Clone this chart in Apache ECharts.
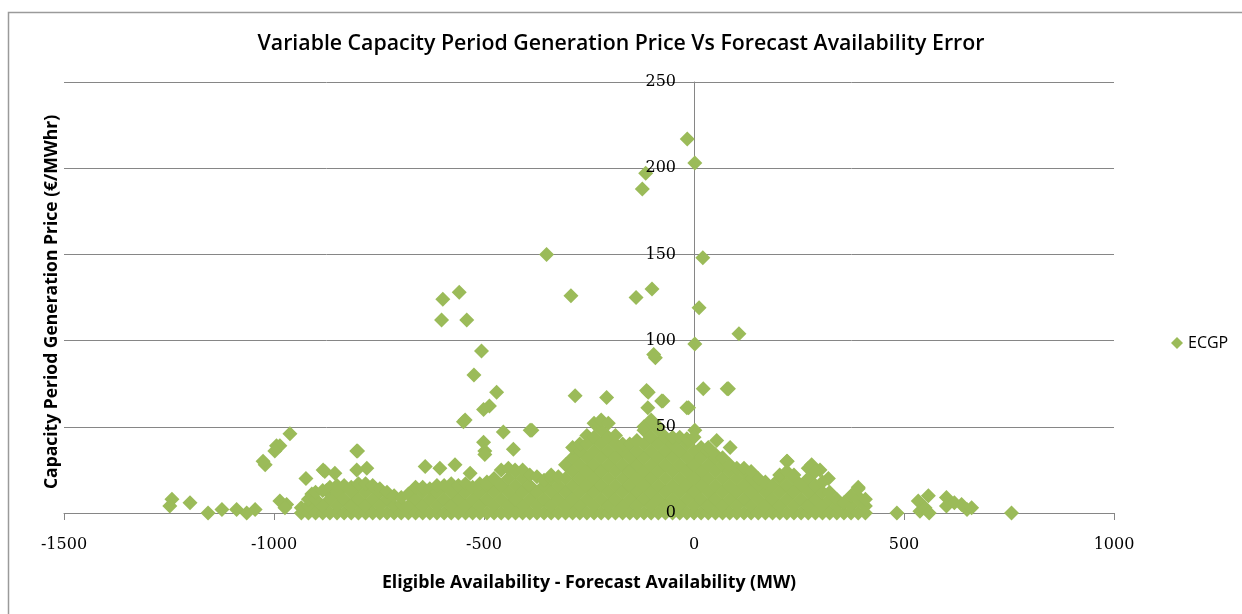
<!DOCTYPE html>
<html>
<head>
<meta charset="utf-8">
<script src="https://cdn.jsdelivr.net/npm/echarts@6/dist/echarts.min.js"></script>
<style>
	html, body {margin: 0; padding: 0; background: #fff;}
	#main {width: 1242px; height: 614px;}
</style>
</head>
<body>
<div id="main"></div>
<script>
// scattered points, [MW error, price]
var outliers = [
	[-16,217],[2,203],[-115,197],[-123,188],[-351,150],[21,148],[-598,124],[-559,128],
	[-601,112],[-541,112],[-293,126],[-138,125],[-100,130],[12,119],[107,104],[2,98],
	[-92,90],[-96,92],[-506,94],[-524,80],
	[-470,70],[-487,62],[-501,60],[-545,54],[-549,53],[-283,68],[-208,67],[-109,70],
	[-113,71],[-77,65],[-74,65],[-110,61],[-13,61],[-17,61],[22,72],[79,72],[82,72],
	[-454,47],[-390,48],[-386,48],[-501,41],[-498,36],[-498,34],[-430,37],[-426,25],
	[86,38],[54,42],[2,48],[221,30],[222,30],[280,28],[300,25],[320,20],
	[-962,46],[-994,39],[-986,39],[-998,36],[-1021,28],[-1026,30],[-803,36],[-801,36],
	[-924,20],[-883,25],[-879,24],[-855,23],[-803,25],[-779,26],[-640,27],[-605,26],
	[-569,28],[-533,23],[-875,13],[-910,11],[-970,5],[-986,7],[-974,3],
	[-1243,8],[-1248,4],[-1200,6],[-1157,0],[-1124,2],[-1089,2],[-1065,0],[-1045,2],
	[391,15],[393,9],[483,0],[534,7],[538,1],[550,3],[558,10],[560,0],[601,9],[601,4],
	[620,6],[637,5],[650,2],[661,3],[756,0]
];

// the dense band near zero, one row per x position: [x, y, y, ...]
var massColumns = [
	[-935,0,3],[-918,0,4,8],[-901,0,8,12],[-884,0,4,13],[-867,0,8,15],[-850,0,4,12,16],
	[-833,0,8,16],[-816,0,4,12,15],[-799,0,8,16,17],[-782,0,4,12,17],[-765,0,8,16],
	[-748,0,4,12,14],[-731,0,8,12],[-714,0,4,10],[-697,0,5,9],[-680,0,4,11],[-663,0,8,15],
	[-646,0,4,12,15],[-629,0,8,14],[-612,0,4,12,16],[-595,0,8,16],[-578,0,4,12,17],
	[-561,0,8,16],[-544,0,4,12,17],[-527,0,8,15],[-510,0,4,12,17],[-493,0,8,16,18],
	[-476,0,4,12,20],[-459,0,8,16,25],[-442,0,4,12,20,26],[-425,0,8,16,24],
	[-408,0,4,12,20,25],[-391,0,8,16,22],[-374,0,4,12,21],[-357,0,8,16,19],
	[-340,0,4,12,20,22],[-323,0,8,16,21],[-306,0,4,12,20,28],[-289,0,8,16,24,32,38],
	[-272,0,4,12,20,28,36,40],[-255,0,8,16,24,32,40,45],[-238,0,4,12,20,28,36,44,52],
	[-221,0,8,16,24,32,40,48,54],[-204,0,4,12,20,28,36,44,52],[-187,0,8,16,24,32,40,45],
	[-170,0,4,12,20,28,36,40],[-153,0,8,16,24,32,40],[-136,0,4,12,20,28,36,42],
	[-119,0,8,16,24,32,40,48,50],[-102,0,4,12,20,28,36,44,52,54],[-85,0,8,16,24,32,40,48,50],
	[-68,0,4,12,20,28,36,44],[-51,0,8,16,24,32,40,44],[-34,0,4,12,20,28,36,44],
	[-17,0,8,16,24,32,40,43],[0,0,4,12,20,28,36,44],[17,0,8,16,24,32,38],
	[34,0,4,12,20,28,36,38],[51,0,8,16,24,32,34],[68,0,4,12,20,28,32],[85,0,8,16,24,28],
	[102,0,4,12,20,26],[119,0,8,16,24,26],[136,0,4,12,20,24],[153,0,8,16,20],
	[170,0,4,12,18],[187,0,8,16],[204,0,4,12,20,22],[221,0,8,16,24],[238,0,4,12,20,22],
	[255,0,8,16],[272,0,4,12,20,26],[289,0,8,16,24],[306,0,4,12,18],[323,0,8,12],
	[340,0,4,8],[357,0,6],[374,0,4,10],[391,0,8,14],[408,0,4,8]
];

var xTicks = {min: -1500, max: 1000, interval: 500};
var yTicks = {min: 0, max: 250, interval: 50};

var points = outliers.slice();
for (var i = 0; i < massColumns.length; i++) {
	for (var j = 1; j < massColumns[i].length; j++) {
		points.push([massColumns[i][0], massColumns[i][j]]);
	}
}

var myChart = echarts.init(document.getElementById('main'));

function plain(v) {
	return String(v);
}

var option = {
	animation: false,
	title: {
		text: 'Variable Capacity Period Generation Price Vs Forecast Availability Error',
		left: 'center',
		top: 28,
		textStyle: {fontFamily: 'Open Sans', fontSize: 21.3, fontWeight: 600, color: '#000'}
	},
	legend: {
		data: ['ECGP'],
		left: 1166,
		top: 330,
		itemWidth: 12,
		itemHeight: 12,
		icon: 'diamond',
		textStyle: {fontFamily: 'Open Sans', fontSize: 16, color: '#000'}
	},
	grid: {left: 64, right: 128, top: 82, bottom: 101},
	xAxis: {
		type: 'value',
		min: xTicks.min,
		max: xTicks.max,
		interval: xTicks.interval,
		name: 'Eligible Availability - Forecast Availability (MW)',
		nameLocation: 'middle',
		nameGap: 61,
		nameTextStyle: {fontFamily: 'Open Sans', fontSize: 17.8, fontWeight: 'bold', color: '#000'},
		axisLine: {onZero: true, lineStyle: {color: '#868686'}},
		axisTick: {show: true, length: 7, lineStyle: {color: '#868686'}},
		axisLabel: {fontFamily: 'DejaVu Serif', fontSize: 16, color: '#000', margin: 24, formatter: plain},
		splitLine: {show: false}
	},
	yAxis: [
		{
			type: 'value',
			position: 'left',
			min: yTicks.min,
			max: yTicks.max,
			interval: yTicks.interval,
			axisLine: {show: true, onZero: true, lineStyle: {color: '#868686'}},
			axisTick: {show: false},
			axisLabel: {show: false},
			splitLine: {show: true, lineStyle: {color: '#868686'}}
		},
		{
			// labels only, moved over to x = 0 and drawn above the points
			type: 'value',
			position: 'left',
			offset: -630,
			z: 10,
			min: yTicks.min,
			max: yTicks.max,
			interval: yTicks.interval,
			axisLine: {show: false, onZero: false},
			axisTick: {show: false},
			axisLabel: {fontFamily: 'DejaVu Serif', fontSize: 16, color: '#000', margin: 18, formatter: plain},
			splitLine: {show: false}
		}
	],
	graphic: [
		{
			type: 'rect',
			shape: {x: 8.5, y: 12.5, width: 1300, height: 700},
			style: {fill: 'none', stroke: '#9a9a9a', lineWidth: 1.5},
			silent: true
		},
		{
			type: 'text',
			x: 52,
			y: 302,
			rotation: Math.PI / 2,
			style: {
				text: 'Capacity Period Generation Price (€/MWhr)',
				fontFamily: 'Open Sans',
				fontSize: 17.5,
				fontWeight: 'bold',
				fill: '#000',
				align: 'center',
				verticalAlign: 'middle'
			}
		}
	],
	series: [
		{
			name: 'ECGP',
			type: 'scatter',
			symbol: 'diamond',
			symbolSize: 15,
			clip: false,
			itemStyle: {color: '#9BBB59', opacity: 1},
			emphasis: {disabled: true},
			data: points
		}
	]
};

myChart.setOption(option);
</script>
</body>
</html>
